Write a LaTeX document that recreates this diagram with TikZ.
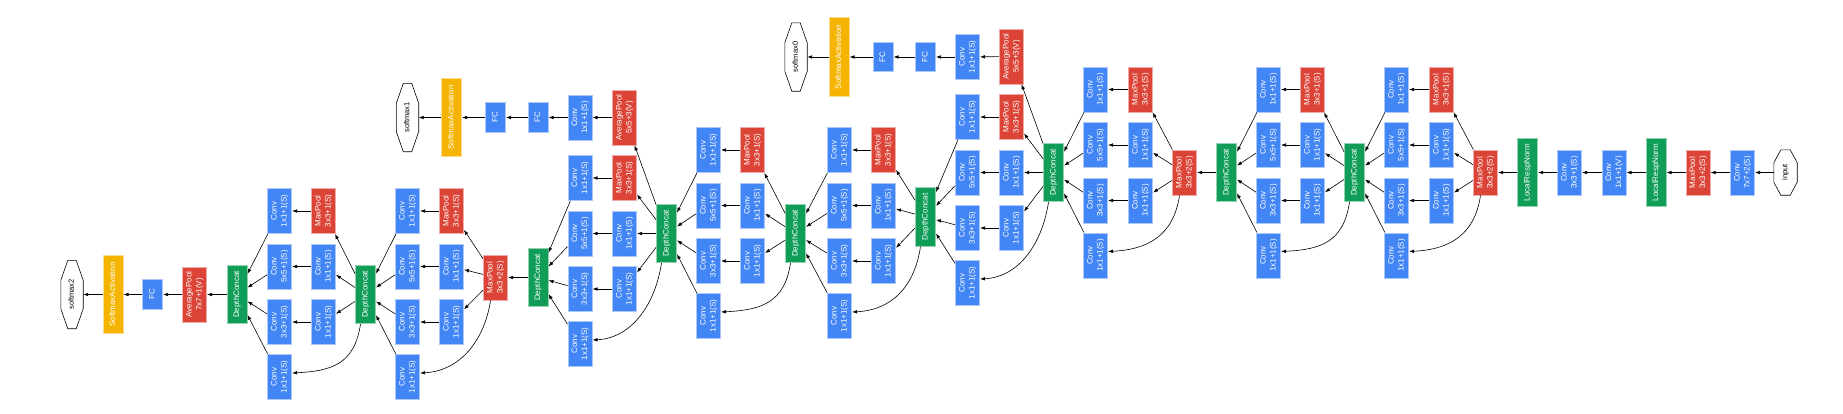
\documentclass[tikz,border=0pt]{standalone}
\usepackage{fontspec}
\setmainfont{Liberation Sans}
\usepackage{tikz}
\usetikzlibrary{arrows.meta,calc}
\tikzset{>=Latex}
\definecolor{convblue}{RGB}{66,133,244}
\definecolor{poolred}{RGB}{219,68,55}
\definecolor{catgreen}{RGB}{15,157,88}
\definecolor{softyellow}{RGB}{244,180,0}
\colorlet{convedge}{convblue!45!white}
\colorlet{pooledge}{poolred!45!white}
\colorlet{catedge}{catgreen!45!white}
\colorlet{softedge}{softyellow!45!white}

\newcommand{\rt}[1]{\rotatebox{90}{\begin{tabular}{@{}c@{}}#1\end{tabular}}}

\tikzset{
  blk/.style={rectangle,inner sep=0pt,line width=0.6pt,text=white,font=\fontsize{8}{10}\selectfont,minimum width=24.4pt,minimum height=45.4pt},
  conv/.style={blk,fill=convblue,draw=convedge},
  pool/.style={blk,fill=poolred,draw=pooledge},
  avg/.style={pool,minimum height=55pt},
  concat/.style={blk,fill=catgreen,draw=catedge,minimum width=20.4pt,minimum height=58.5pt},
  norm/.style={blk,fill=catgreen,draw=catedge,minimum width=20.4pt,minimum height=68.5pt},
  fc/.style={blk,fill=convblue,draw=convedge,minimum width=20.4pt,minimum height=29.5pt},
  soft/.style={blk,fill=softyellow,draw=softedge,minimum width=20.4pt,minimum height=78.5pt},
  octa/.style={rectangle,inner sep=0pt,font=\fontsize{7.5}{9}\selectfont,minimum width=22pt,minimum height=68pt},
  arr/.style={-{Latex[length=5pt,width=3.6pt]},line width=0.6pt}
}

\newcommand{\inception}[7]{
  \node[pool] (#1p) at (#3,#6) {\rt{MaxPool\\3x3+1(S)}};
  \node[conv] (#1r5) at (#3,#6+55.5) {\rt{Conv\\1x1+1(S)}};
  \node[conv] (#1r3) at (#3,#6+111) {\rt{Conv\\1x1+1(S)}};
  \node[conv] (#1c1) at (#4,#6) {\rt{Conv\\1x1+1(S)}};
  \node[conv] (#1c5) at (#4,#6+55.5) {\rt{Conv\\5x5+1(S)}};
  \node[conv] (#1c3) at (#4,#6+111) {\rt{Conv\\3x3+1(S)}};
  \node[conv] (#1c0) at (#4,#6+166) {\rt{Conv\\1x1+1(S)}};
  \node[concat] (#1) at (#5,#7) {\rt{DepthConcat}};
  \draw[arr] (#2) -- (#1p);
  \draw[arr] (#2) -- (#1r5);
  \draw[arr] (#2) -- (#1r3);
  \draw[arr] ([xshift=-5pt]#2.south) .. controls +(-6,40) and +(40,-2) .. ([yshift=4pt]#1c0.east);
  \draw[arr] (#1p) -- (#1c1);
  \draw[arr] (#1r5) -- (#1c5);
  \draw[arr] (#1r3) -- (#1c3);
  \draw[arr] (#1c1) -- (#1);
  \draw[arr] (#1c5) -- (#1);
  \draw[arr] (#1c3) -- (#1);
  \draw[arr] (#1c0) -- (#1);
}

\begin{document}
\begin{tikzpicture}[x=1pt,y=-1pt]
\useasboundingbox (0,0) rectangle (1843,413);

\node[octa,minimum width=23pt,minimum height=45pt] (inp) at (1785.5,172.5) {\rt{input}};
\node[conv] (c7) at (1742.5,172.5) {\rt{Conv\\7x7+2(S)}};
\node[pool] (mp1) at (1698,172.5) {\rt{MaxPool\\3x3+2(S)}};
\node[norm] (lrn1) at (1656,172.5) {\rt{LocalRespNorm}};
\node[conv] (cv1) at (1614,172.5) {\rt{Conv\\1x1+1(V)}};
\node[conv] (cv3) at (1569.5,172.5) {\rt{Conv\\3x3+1(S)}};
\node[norm] (lrn2) at (1527.5,172.5) {\rt{LocalRespNorm}};
\node[pool] (mp2) at (1485.5,172.5) {\rt{MaxPool\\3x3+2(S)}};
\draw[arr] (inp) -- (c7);
\draw[arr] (c7) -- (mp1);
\draw[arr] (mp1) -- (lrn1);
\draw[arr] (lrn1) -- (cv1);
\draw[arr] (cv1) -- (cv3);
\draw[arr] (cv3) -- (lrn2);
\draw[arr] (lrn2) -- (mp2);

\inception{i3a}{mp2}{1441.5}{1396.5}{1354.5}{89.5}{172.5}
\inception{i3b}{i3a}{1312.5}{1268.5}{1226.5}{89.5}{172.5}
\node[pool] (mp3) at (1184.5,172.5) {\rt{MaxPool\\3x3+2(S)}};
\draw[arr] (i3b) -- (mp3);
\inception{i4a}{mp3}{1140.5}{1095.5}{1053.5}{89.5}{172.5}
\inception{i4b}{i4a}{1011.5}{967.5}{925.5}{117}{217}

\node[avg] (avg0) at (1011.5,56.5) {\rt{AveragePool\\5x5+3(V)}};
\node[conv] (ac0) at (967.5,57) {\rt{Conv\\1x1+1(S)}};
\node[fc] (fa0) at (925.5,57) {\rt{FC}};
\node[fc] (fb0) at (883,57) {\rt{FC}};
\node[soft] (sa0) at (839,57) {\rt{SoftmaxActivation}};
\node[octa] (sm0) at (796,57) {\rt{softmax0}};
\draw[arr] (i4a) -- (avg0);
\draw[arr] (avg0) -- (ac0);
\draw[arr] (ac0) -- (fa0);
\draw[arr] (fa0) -- (fb0);
\draw[arr] (fb0) -- (sa0);
\draw[arr] (sa0) -- (sm0);

\inception{i4c}{i4b}{883.5}{839.5}{795.5}{150}{233.5}
\inception{i4d}{i4c}{752.5}{708.5}{666.5}{150}{233.5}
\inception{i4e}{i4d}{624.5}{580}{538}{178}{277.5}

\node[avg] (avg1) at (624.5,117.5) {\rt{AveragePool\\5x5+3(V)}};
\node[conv] (ac1) at (580,117.5) {\rt{Conv\\1x1+1(S)}};
\node[fc] (fa1) at (538,117.5) {\rt{FC}};
\node[fc] (fb1) at (495.5,117.5) {\rt{FC}};
\node[soft] (sa1) at (451.5,117.5) {\rt{SoftmaxActivation}};
\node[octa] (sm1) at (407.5,117.5) {\rt{softmax1}};
\draw[arr] (i4d) -- (avg1);
\draw[arr] (avg1) -- (ac1);
\draw[arr] (ac1) -- (fa1);
\draw[arr] (fa1) -- (fb1);
\draw[arr] (fb1) -- (sa1);
\draw[arr] (sa1) -- (sm1);

\node[pool] (mp4) at (495.5,277.5) {\rt{MaxPool\\3x3+2(S)}};
\draw[arr] (i4e) -- (mp4);
\inception{i5a}{mp4}{451.5}{407.5}{365.5}{211}{294.5}
\inception{i5b}{i5a}{323.5}{279.5}{237}{211}{294.5}

\node[avg] (avg2) at (194.5,294.5) {\rt{AveragePool\\7x7+1(V)}};
\node[fc] (fc2) at (152.5,294.5) {\rt{FC}};
\node[soft] (sa2) at (113,294.5) {\rt{SoftmaxActivation}};
\node[octa] (sm2) at (72,294.5) {\rt{softmax2}};
\draw[arr] (i5b) -- (avg2);
\draw[arr] (avg2) -- (fc2);
\draw[arr] (fc2) -- (sa2);
\draw[arr] (sa2) -- (sm2);

\foreach \n/\dx/\dy in {sm0/7/20,sm1/7/20,sm2/7/20,inp/7/13}
  \draw[line width=0.6pt] ([xshift=\dx pt]\n.north west) -- ([xshift=-\dx pt]\n.north east)
    -- ([yshift=-\dy pt]\n.north east) -- ([yshift=\dy pt]\n.south east)
    -- ([xshift=-\dx pt]\n.south east) -- ([xshift=\dx pt]\n.south west)
    -- ([yshift=\dy pt]\n.south west) -- ([yshift=-\dy pt]\n.north west) -- cycle;
\end{tikzpicture}
\end{document}
